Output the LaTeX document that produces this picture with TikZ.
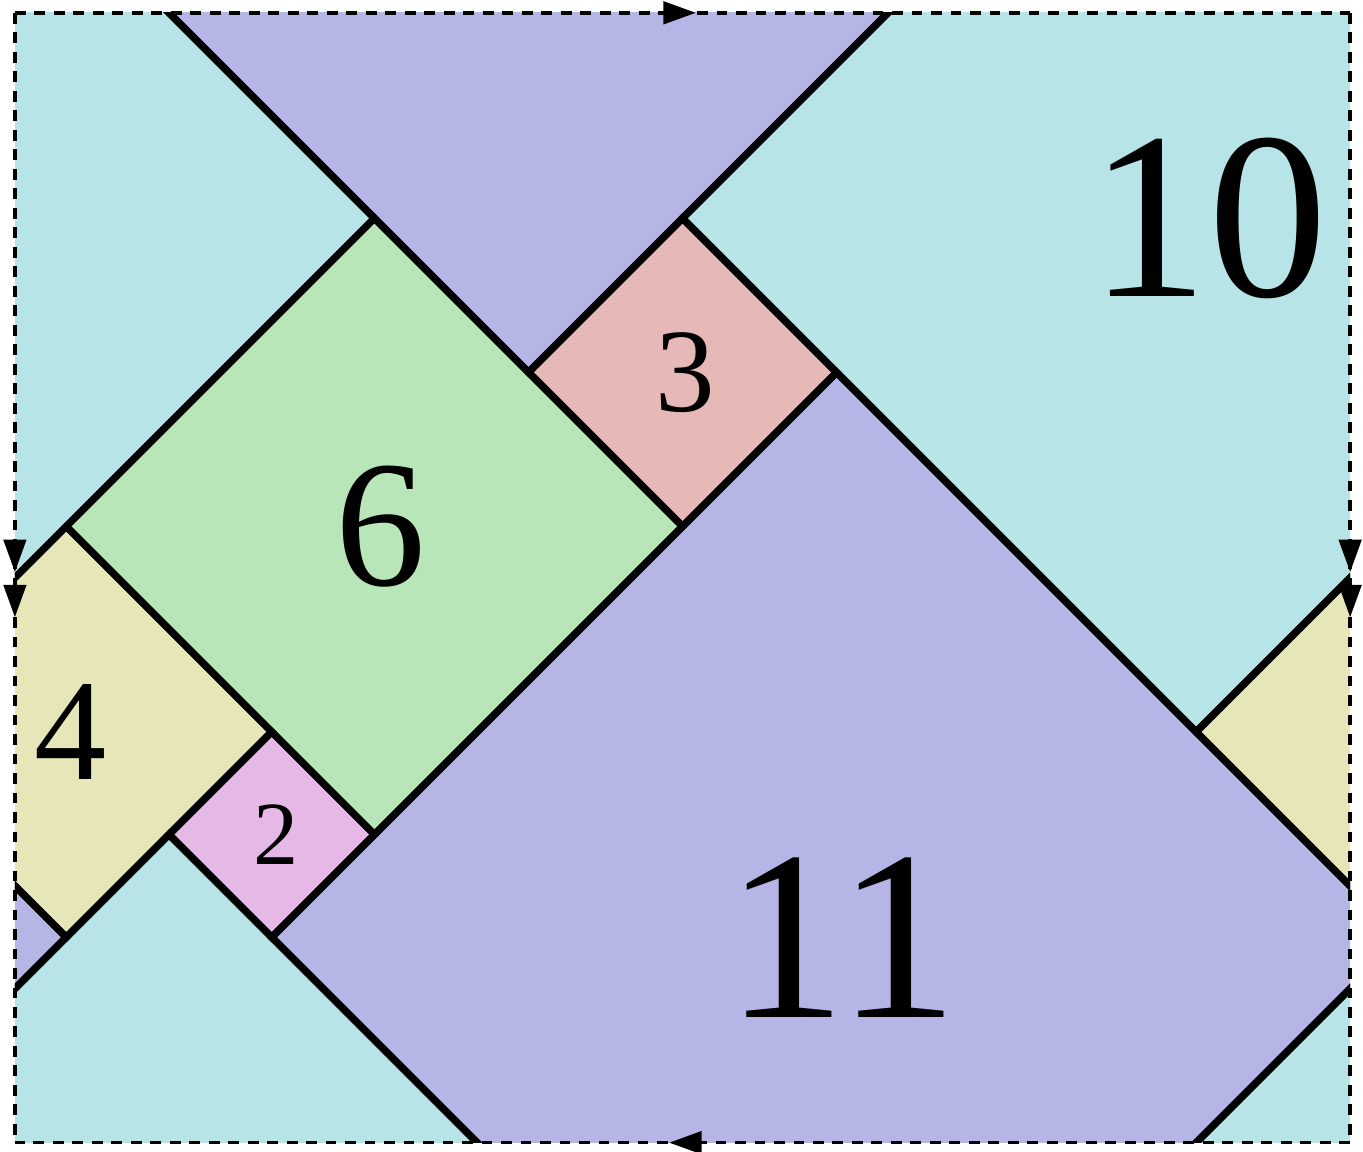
\documentclass[tikz,border=0pt]{standalone}
\usepackage{fontspec}
\setmainfont{Liberation Serif}
\usetikzlibrary{arrows.meta,decorations.markings}
\definecolor{tcyan}{RGB}{183,228,230}
\definecolor{tpurple}{RGB}{182,182,230}
\definecolor{tgreen}{RGB}{184,230,185}
\definecolor{tred}{RGB}{230,184,184}
\definecolor{tpink}{RGB}{230,184,230}
\definecolor{tyellow}{RGB}{230,230,184}
% 菱形方块：中心 (#1,#2)，半对角线 #3
\newcommand{\tilediam}[3]{({#1-#3},{#2}) -- ({#1},{#2+#3}) -- ({#1+#3},{#2}) -- ({#1},{#2-#3}) -- cycle}
\begin{document}
\begin{tikzpicture}[x=0.5cm, y=0.5cm,
  edge/.style={line width=2pt, line join=miter},
  seam/.style={line width=1pt, dash pattern=on 3pt off 2.4pt},
  seamone/.style={seam, postaction={decorate}, decoration={markings,
    mark=at position 0.51 with {\arrow{Triangle[length=9pt,width=6.2pt]}}}},
  seamtwo/.style={seam, postaction={decorate}, decoration={markings,
    mark=at position 0.495 with {\arrow{Triangle[length=9pt,width=6.2pt]}},
    mark=at position 0.535 with {\arrow{Triangle[length=9pt,width=6.2pt]}}}},
  lbl/.style={inner sep=0pt}]
  \useasboundingbox (-0.29,-0.17) rectangle (26.25,22.25);
  % 中心x/中心y/半径/颜色
  \def\tiles{7/12/6/tgreen, 13/15/3/tred, 5/6/2/tpink, 1/8/4/tyellow, 16/4/11/tpurple, 23/18/10/tcyan}
  \begin{scope}
    \clip (0,0) rectangle (26,22);
    % 填色（含平移与滑移反射的像）
    \foreach \cx/\cy/\r/\c in \tiles{
      \foreach \k in {-26,0,26}{
        \fill[\c] \tilediam{\cx+\k}{\cy}{\r};
        \fill[\c] \tilediam{26-\cx+\k}{\cy+22}{\r};
        \fill[\c] \tilediam{26-\cx+\k}{\cy-22}{\r};
      }
    }
    % 边线
    \foreach \cx/\cy/\r/\c in \tiles{
      \foreach \k in {-26,0,26}{
        \draw[edge] \tilediam{\cx+\k}{\cy}{\r};
        \draw[edge] \tilediam{26-\cx+\k}{\cy+22}{\r};
        \draw[edge] \tilediam{26-\cx+\k}{\cy-22}{\r};
      }
    }
  \end{scope}
  % 边界粘合
  \coordinate (sw) at (0,0);
  \coordinate (se) at (26,0);
  \coordinate (ne) at (26,22);
  \coordinate (nw) at (0,22);
  \draw[seamone] (nw) -- (ne);
  \draw[seamone] (se) -- (sw);
  \draw[seamtwo] (nw) -- (sw);
  \draw[seamtwo] (ne) -- (se);
  % 边长
  \node[lbl, font=\fontsize{66}{66}\selectfont] (n10) at (23.25,18) {10};
  \node[lbl, font=\fontsize{67}{67}\selectfont] (n11) at (16.1,4) {11};
  \node[lbl, font=\fontsize{50}{50}\selectfont] (n6) at (7.13,12) {6};
  \node[lbl, font=\fontsize{40}{40}\selectfont] (n4) at (1.08,8) {4};
  \node[lbl, font=\fontsize{33}{33}\selectfont] (n3) at (13.06,15) {3};
  \node[lbl, font=\fontsize{25}{25}\selectfont] (n2) at (5.08,6) {2};
\end{tikzpicture}
\end{document}
